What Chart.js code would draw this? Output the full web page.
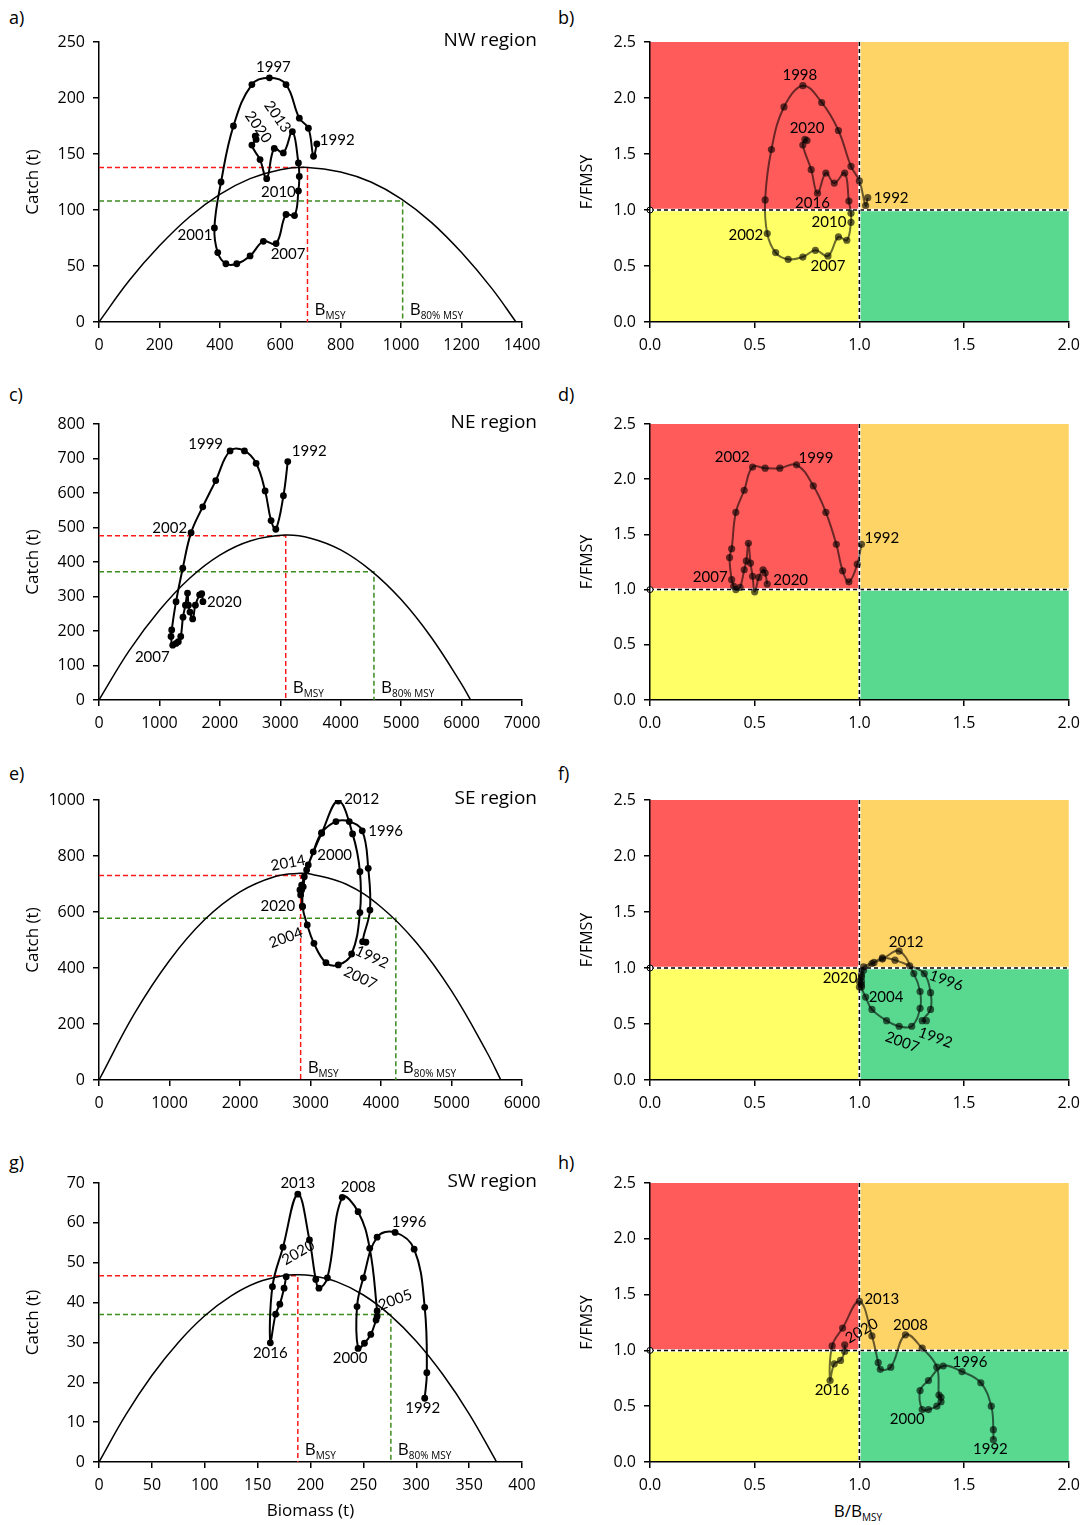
<!DOCTYPE html>
<html>
<head>
<meta charset="utf-8">
<script src="https://cdn.jsdelivr.net/npm/chart.js@4.4.1/dist/chart.umd.min.js"></script>
<style>
  body { margin:0; background:#fff; width:1088px; height:1525px; position:relative; overflow:hidden; font-family:'Open Sans', sans-serif; color:#000; }
  .tag { position:absolute; font-size:18px; }
  .xt { position:absolute; font-size:17px; text-align:center; width:200px; }
  .xt sub { font-size:10px; vertical-align:-4px; }
</style>
</head>
<body>
<div class="tag" style="left:9px;top:5px">a)</div>
<div class="tag" style="left:558px;top:5px">b)</div>
<div class="tag" style="left:9px;top:382px">c)</div>
<div class="tag" style="left:558px;top:382px">d)</div>
<div class="tag" style="left:9px;top:761px">e)</div>
<div class="tag" style="left:558px;top:761px">f)</div>
<div class="tag" style="left:9px;top:1150px">g)</div>
<div class="tag" style="left:558px;top:1150px">h)</div>
<div class="xt" style="left:758px;top:1499px">B/B<sub>MSY</sub></div>

<script>
const years = [1992,1993,1994,1995,1996,1997,1998,1999,2000,2001,2002,2003,2004,2005,2006,
  2007,2008,2009,2010,2011,2012,2013,2014,2015,2016,2017,2018,2019,2020];

// NW region
const nwBiomass = [721,710,693,663,619,564,506,445,404,382,393,420,456,500,544,586,619,647,660,663,660,640,610,580,555,533,506,520,517];
const nwCatch   = [159,148,173,182,212,218,212,175,125,84,62,52,52,59,72,70,96,95,117,130,142,170,151,155,128,145,158,163,166];
const nwBB = [1.04,1.03,1.00,0.96,0.90,0.82,0.73,0.64,0.58,0.55,0.56,0.60,0.66,0.73,0.79,0.85,0.90,0.94,0.96,0.96,0.95,0.93,0.88,0.84,0.80,0.77,0.73,0.74,0.75];
const nwFF = [1.11,1.04,1.26,1.39,1.71,1.96,2.11,1.92,1.54,1.09,0.79,0.62,0.56,0.58,0.64,0.59,0.76,0.73,0.89,0.97,1.08,1.33,1.24,1.33,1.15,1.36,1.58,1.63,1.62];
const nwCurveB = [0,100,200,300,400,500,600,690,800,900,1000,1100,1200,1300,1380];
const nwCurveC = [0,37,68,94,114,128,136,138,134,125,110,89,62,30,0];
const nwRefB = [690, 1005];   // BMSY, B80%MSY
const nwRefC = [138, 108];

// NE region
const neBiomass = [3124,3052,2926,2848,2749,2600,2407,2169,1932,1717,1524,1386,1275,1203,1192,1220,1275,1313,1353,1390,1430,1465,1480,1505,1550,1595,1665,1700,1720];
const neCatch   = [691,592,495,520,606,686,722,722,636,560,485,382,285,203,184,159,164,169,184,240,275,310,275,255,235,275,305,308,285];
const neBB = [1.01,0.99,0.95,0.92,0.89,0.84,0.78,0.70,0.62,0.55,0.49,0.45,0.41,0.39,0.38,0.39,0.40,0.41,0.43,0.45,0.46,0.47,0.48,0.49,0.50,0.52,0.54,0.55,0.56];
const neFF = [1.41,1.23,1.07,1.17,1.41,1.70,1.94,2.13,2.10,2.10,2.11,1.90,1.70,1.37,1.29,1.09,1.03,1.00,1.02,1.18,1.26,1.42,1.24,1.12,0.98,1.11,1.18,1.15,1.05];
const neCurveB = [0,500,1000,1500,2000,2500,3075,3500,4000,4500,5000,5500,6000,6150];
const neCurveC = [0,143,260,353,420,461,478,469,435,375,291,181,46,0];
const neRefB = [3090, 4550];
const neRefC = [476, 372];

// SE region
const seBiomass = [3786,3739,3843,3819,3734,3550,3361,3158,3039,2945,2897,2888,2954,3049,3219,3394,3583,3701,3701,3597,3394,3158,2968,2912,2874,2850,2860,2874,2883];
const seCatch   = [492,494,607,756,890,923,923,883,815,750,690,619,554,488,419,411,450,598,744,879,996,881,768,726,696,679,661,679,621];
const seBB = [1.32,1.30,1.34,1.34,1.31,1.24,1.17,1.11,1.07,1.02,1.01,1.01,1.03,1.06,1.13,1.19,1.25,1.29,1.29,1.26,1.19,1.11,1.06,1.02,1.01,1.00,1.00,1.01,1.01];
const seFF = [0.53,0.53,0.63,0.78,0.95,1.02,1.07,1.09,1.05,1.01,0.94,0.83,0.74,0.63,0.53,0.48,0.48,0.64,0.79,0.95,1.15,1.08,1.04,0.98,0.92,0.88,0.83,0.88,0.85];
const seCurveB = [0,500,1000,1500,2000,2500,2850,3000,3500,4000,4500,5000,5500,5700];
const seCurveC = [0,236,427,573,672,727,738,736,700,618,491,318,100,0];
const seRefB = [2860, 4210];
const seRefC = [730, 578];

// SW region
const swBiomass = [308,310,308,298,280,263,250,244,245,251,257,262,263,263,256,245,230,216,208,205,199,188,174,164,162,167,171,175,177];
const swCatch   = [16.0,22.4,38.8,53.4,57.6,56.4,46.2,39.0,28.5,29.8,32.0,35.6,36.5,37.9,53.6,62.8,66.4,46.2,43.6,45.8,55.7,67.2,53.9,44.0,29.9,37.1,39.6,43.6,46.5];
const swBB = [1.64,1.64,1.63,1.58,1.49,1.40,1.33,1.29,1.30,1.33,1.37,1.39,1.39,1.38,1.37,1.30,1.22,1.15,1.10,1.09,1.06,1.00,0.92,0.87,0.86,0.88,0.91,0.93,0.93];
const swFF = [0.20,0.29,0.50,0.71,0.81,0.86,0.73,0.64,0.47,0.47,0.50,0.54,0.58,0.60,0.85,1.02,1.14,0.85,0.83,0.89,1.13,1.44,1.20,1.04,0.73,0.88,0.91,0.99,1.05];
const swCurveB = [0,25,50,75,100,125,150,175,188,200,225,250,275,300,325,350,376];
const swCurveC = [0,11.7,21.7,30,36.7,41.7,45.1,46.8,47,46.8,45.2,41.9,36.9,30.3,22,12.1,0];
const swRefB = [188, 276];
const swRefC = [46.7, 37];

// ==========================
// LAYOUT / STYLE
// ==========================
const rows = [
  { top:0,    h:380, ct:42, cb:322 },
  { top:380,  h:380, ct:44, cb:320 },
  { top:760,  h:380, ct:40, cb:320 },
  { top:1140, h:385, ct:43, cb:322 }
];
const kobeColors = { red:'#ff5b5b', orange:'#ffd466', yellow:'#ffff66', green:'#58d98f' };
const FONT = 'Open Sans';

function makeCanvas(left, top, w, h){
  const c = document.createElement('canvas');
  c.width = w; c.height = h;
  c.style.cssText = `position:absolute;left:${left}px;top:${top}px;width:${w}px;height:${h}px`;
  document.body.appendChild(c);
  return c;
}

function axis(max, step, fmt, fit, title){
  return {
    type:'linear', min:0, max,
    ticks:{ stepSize:step, autoSkip:false, maxRotation:0, color:'#000', padding:8,
            font:{ family:FONT, size:16 }, callback: fmt },
    grid:{ drawOnChartArea:false, tickLength:6, color:'#000', lineWidth:1.5 },
    border:{ color:'#000', width:1.5 },
    title: title ? { display:true, text:title, color:'#000', font:{ family:FONT, size:17 }, padding:{top:4,bottom:4} } : { display:false },
    afterFit: fit
  };
}

// background quadrants for kobe plots
const kobeBg = {
  id:'kobeBg',
  beforeDraw(chart){
    const { ctx, chartArea:a, scales:{x, y} } = chart;
    const x1 = x.getPixelForValue(1), y1 = y.getPixelForValue(1);
    ctx.save();
    ctx.fillStyle = kobeColors.red;    ctx.fillRect(a.left, a.top, x1 - a.left, y1 - a.top);
    ctx.fillStyle = kobeColors.orange; ctx.fillRect(x1, a.top, a.right - x1, y1 - a.top);
    ctx.fillStyle = kobeColors.yellow; ctx.fillRect(a.left, y1, x1 - a.left, a.bottom - y1);
    ctx.fillStyle = kobeColors.green;  ctx.fillRect(x1, y1, a.right - x1, a.bottom - y1);
    const lines = [[a.left, y1, a.right, y1], [x1, a.top, x1, a.bottom]];
    lines.forEach(l => {
      ctx.setLineDash([]); ctx.strokeStyle = '#fff'; ctx.lineWidth = 2.5;
      ctx.beginPath(); ctx.moveTo(l[0], l[1]); ctx.lineTo(l[2], l[3]); ctx.stroke();
      ctx.setLineDash([4,3]); ctx.strokeStyle = '#000'; ctx.lineWidth = 1.5;
      ctx.beginPath(); ctx.moveTo(l[0], l[1]); ctx.lineTo(l[2], l[3]); ctx.stroke();
    });
    ctx.setLineDash([]);
    ctx.fillStyle = '#fff'; ctx.strokeStyle = '#000'; ctx.lineWidth = 1;
    ctx.beginPath(); ctx.arc(a.left, y1, 3, 0, Math.PI*2); ctx.fill(); ctx.stroke();
    ctx.restore();
  }
};

function subText(ctx, x, yBase, main, sub){
  ctx.textAlign = 'left'; ctx.textBaseline = 'alphabetic';
  ctx.font = `17px "${FONT}"`;
  ctx.fillText(main, x, yBase);
  const w = ctx.measureText(main).width;
  ctx.font = `10px "${FONT}"`;
  ctx.fillText(sub, x + w, yBase + 4);
}

// year labels, region name, reference labels
const annot = {
  id:'annot',
  afterDatasetsDraw(chart, args, o){
    const { ctx, chartArea:a, scales:{x} } = chart;
    const pts = chart.getDatasetMeta(0).data;
    ctx.save();
    ctx.fillStyle = '#000';
    o.labels.forEach(l => {
      const p = pts[years.indexOf(l.yr)];
      ctx.save();
      ctx.translate(p.x + l.dx, p.y + l.dy);
      ctx.rotate((l.r || 0) * Math.PI / 180);
      ctx.font = '15px Lato';
      ctx.textAlign = l.a || 'center';
      ctx.textBaseline = 'middle';
      ctx.fillText(String(l.yr), 0, 0);
      ctx.restore();
    });
    if (o.region){
      ctx.font = `19px "${FONT}"`;
      ctx.textAlign = 'right'; ctx.textBaseline = 'middle';
      ctx.fillText(o.region, a.right + 15, a.top - 1);
    }
    if (o.refB){
      subText(ctx, x.getPixelForValue(o.refB[0]) + 7, a.bottom - 7, 'B', 'MSY');
      subText(ctx, x.getPixelForValue(o.refB[1]) + 7, a.bottom - 7, 'B', '80% MSY');
    }
    ctx.restore();
  }
};

function stockChart(row, s){
  const xh = s.xTitle ? 63 : 40;
  const c = makeCanvas(0, row.top, 560, row.h);
  return new Chart(c, {
    type:'scatter',
    data:{ datasets:[
      { data:s.bio.map((b,i)=>({x:b, y:s.cat[i]})), showLine:true, borderColor:'#000', backgroundColor:'#000',
        borderWidth:2, pointRadius:3.4, pointBorderWidth:0, tension:0.4 },
      { data:s.cb.map((b,i)=>({x:b, y:s.cc[i]})), showLine:true, borderColor:'#000', borderWidth:1.5, pointRadius:0, tension:0.4 },
      { data:[{x:0,y:s.refC[0]},{x:s.refB[0],y:s.refC[0]},{x:s.refB[0],y:0}], showLine:true, borderColor:'#ff1a1a',
        borderDash:[5,3], borderWidth:1.5, pointRadius:0, tension:0 },
      { data:[{x:0,y:s.refC[1]},{x:s.refB[1],y:s.refC[1]},{x:s.refB[1],y:0}], showLine:true, borderColor:'#3c8c1e',
        borderDash:[5,3], borderWidth:1.5, pointRadius:0, tension:0 }
    ]},
    options:{
      responsive:false, animation:false, events:[],
      layout:{ padding:{ left:19, right:38, top:row.ct, bottom:row.h - row.cb - xh } },
      scales:{
        x: axis(s.xMax, s.xStep, v => String(v), sc => { sc.height = xh; }, s.xTitle),
        y: axis(s.yMax, s.yStep, v => String(v), sc => { sc.width = 80; }, 'Catch (t)')
      },
      plugins:{ legend:{display:false}, tooltip:{enabled:false},
        annot:{ labels:s.labels, region:s.region, refB:s.refB } }
    },
    plugins:[annot]
  });
}

function kobeChart(row, s){
  const c = makeCanvas(544, row.top, 544, row.h);
  const f1 = v => v.toFixed(1);
  return new Chart(c, {
    type:'scatter',
    data:{ datasets:[
      { data:s.bb.map((b,i)=>({x:b, y:s.ff[i]})), showLine:true, borderColor:'rgba(0,0,0,0.58)',
        backgroundColor:'rgba(0,0,0,0.62)', borderWidth:2, pointRadius:3.6, pointBorderWidth:0, tension:0.4 }
    ]},
    options:{
      responsive:false, animation:false, events:[],
      layout:{ padding:{ left:30, right:19, top:row.ct, bottom:row.h - row.cb - 40 } },
      scales:{
        x: axis(2, 0.5, f1, sc => { sc.height = 40; }, null),
        y: Object.assign(axis(2.5, 0.5, f1, sc => { sc.width = 76; }, 'F/FMSY'),
             { title:{ display:true, text:'F/FMSY', color:'#000', font:{family:FONT, size:16}, padding:{top:4,bottom:4} } })
      },
      plugins:{ legend:{display:false}, tooltip:{enabled:false}, annot:{ labels:s.labels } }
    },
    plugins:[kobeBg, annot]
  });
}

// ==========================
// PANELS
// ==========================
stockChart(rows[0], { bio:nwBiomass, cat:nwCatch, cb:nwCurveB, cc:nwCurveC, refB:nwRefB, refC:nwRefC,
  xMax:1400, xStep:200, yMax:250, yStep:50, region:'NW region',
  labels:[ {yr:1997,dx:4,dy:-11}, {yr:1992,dx:3,dy:-4,a:'left'}, {yr:2013,dx:-15,dy:-15,r:55},
           {yr:2020,dx:3,dy:-9,r:55}, {yr:2010,dx:-20,dy:1}, {yr:2001,dx:-2,dy:7,a:'right'}, {yr:2007,dx:12,dy:11} ] });

kobeChart(rows[0], { bb:nwBB, ff:nwFF,
  labels:[ {yr:1998,dx:-3,dy:-11}, {yr:2020,dx:0,dy:-12}, {yr:2016,dx:-5,dy:10}, {yr:2010,dx:-22,dy:0},
           {yr:2002,dx:-4,dy:2,a:'right'}, {yr:2007,dx:0,dy:10}, {yr:1992,dx:6,dy:0,a:'left'} ] });

stockChart(rows[1], { bio:neBiomass, cat:neCatch, cb:neCurveB, cc:neCurveC, refB:neRefB, refC:neRefC,
  xMax:7000, xStep:1000, yMax:800, yStep:100, region:'NE region',
  labels:[ {yr:1999,dx:-7,dy:-7,a:'right'}, {yr:1992,dx:4,dy:-10,a:'left'}, {yr:2002,dx:-4,dy:-5,a:'right'},
           {yr:2020,dx:4,dy:0,a:'left'}, {yr:2007,dx:-3,dy:12,a:'right'} ] });

kobeChart(rows[1], { bb:neBB, ff:neFF,
  labels:[ {yr:2002,dx:-3,dy:-10,a:'right'}, {yr:1999,dx:2,dy:-7,a:'left'}, {yr:1992,dx:3,dy:-6,a:'left'},
           {yr:2007,dx:-4,dy:-3,a:'right'}, {yr:2020,dx:6,dy:-4,a:'left'} ] });

stockChart(rows[2], { bio:seBiomass, cat:seCatch, cb:seCurveB, cc:seCurveC, refB:seRefB, refC:seRefC,
  xMax:6000, xStep:1000, yMax:1000, yStep:200, region:'SE region',
  labels:[ {yr:2012,dx:6,dy:-2,a:'left'}, {yr:1996,dx:6,dy:0,a:'left'}, {yr:2014,dx:-3,dy:-5,a:'right',r:-10},
           {yr:2000,dx:4,dy:3,a:'left'}, {yr:2020,dx:-7,dy:0,a:'right'}, {yr:2004,dx:-5,dy:7,a:'right',r:-20},
           {yr:1992,dx:6,dy:15,r:25}, {yr:2007,dx:22,dy:13,r:25} ] });

kobeChart(rows[2], { bb:seBB, ff:seFF,
  labels:[ {yr:2012,dx:7,dy:-9}, {yr:1996,dx:22,dy:7,r:20}, {yr:2020,dx:-4,dy:-7,a:'right'},
           {yr:2004,dx:3,dy:0,a:'left'}, {yr:1992,dx:9,dy:17,r:20}, {yr:2007,dx:3,dy:16,r:20} ] });

stockChart(rows[3], { bio:swBiomass, cat:swCatch, cb:swCurveB, cc:swCurveC, refB:swRefB, refC:swRefC,
  xMax:400, xStep:50, yMax:70, yStep:10, region:'SW region', xTitle:'Biomass (t)',
  labels:[ {yr:2013,dx:0,dy:-11}, {yr:2008,dx:16,dy:-10}, {yr:1996,dx:14,dy:-10}, {yr:2020,dx:12,dy:-24,r:-30},
           {yr:2005,dx:18,dy:-11,r:-20}, {yr:2016,dx:0,dy:10}, {yr:2000,dx:-8,dy:10}, {yr:1992,dx:-2,dy:10} ] });

kobeChart(rows[3], { bb:swBB, ff:swFF,
  labels:[ {yr:2013,dx:5,dy:-2,a:'left'}, {yr:2020,dx:17,dy:-14,r:-30}, {yr:2008,dx:5,dy:-10},
           {yr:1996,dx:8,dy:-9}, {yr:2016,dx:2,dy:10}, {yr:2000,dx:-15,dy:10}, {yr:1992,dx:-3,dy:9} ] });
</script>
</body>
</html>
